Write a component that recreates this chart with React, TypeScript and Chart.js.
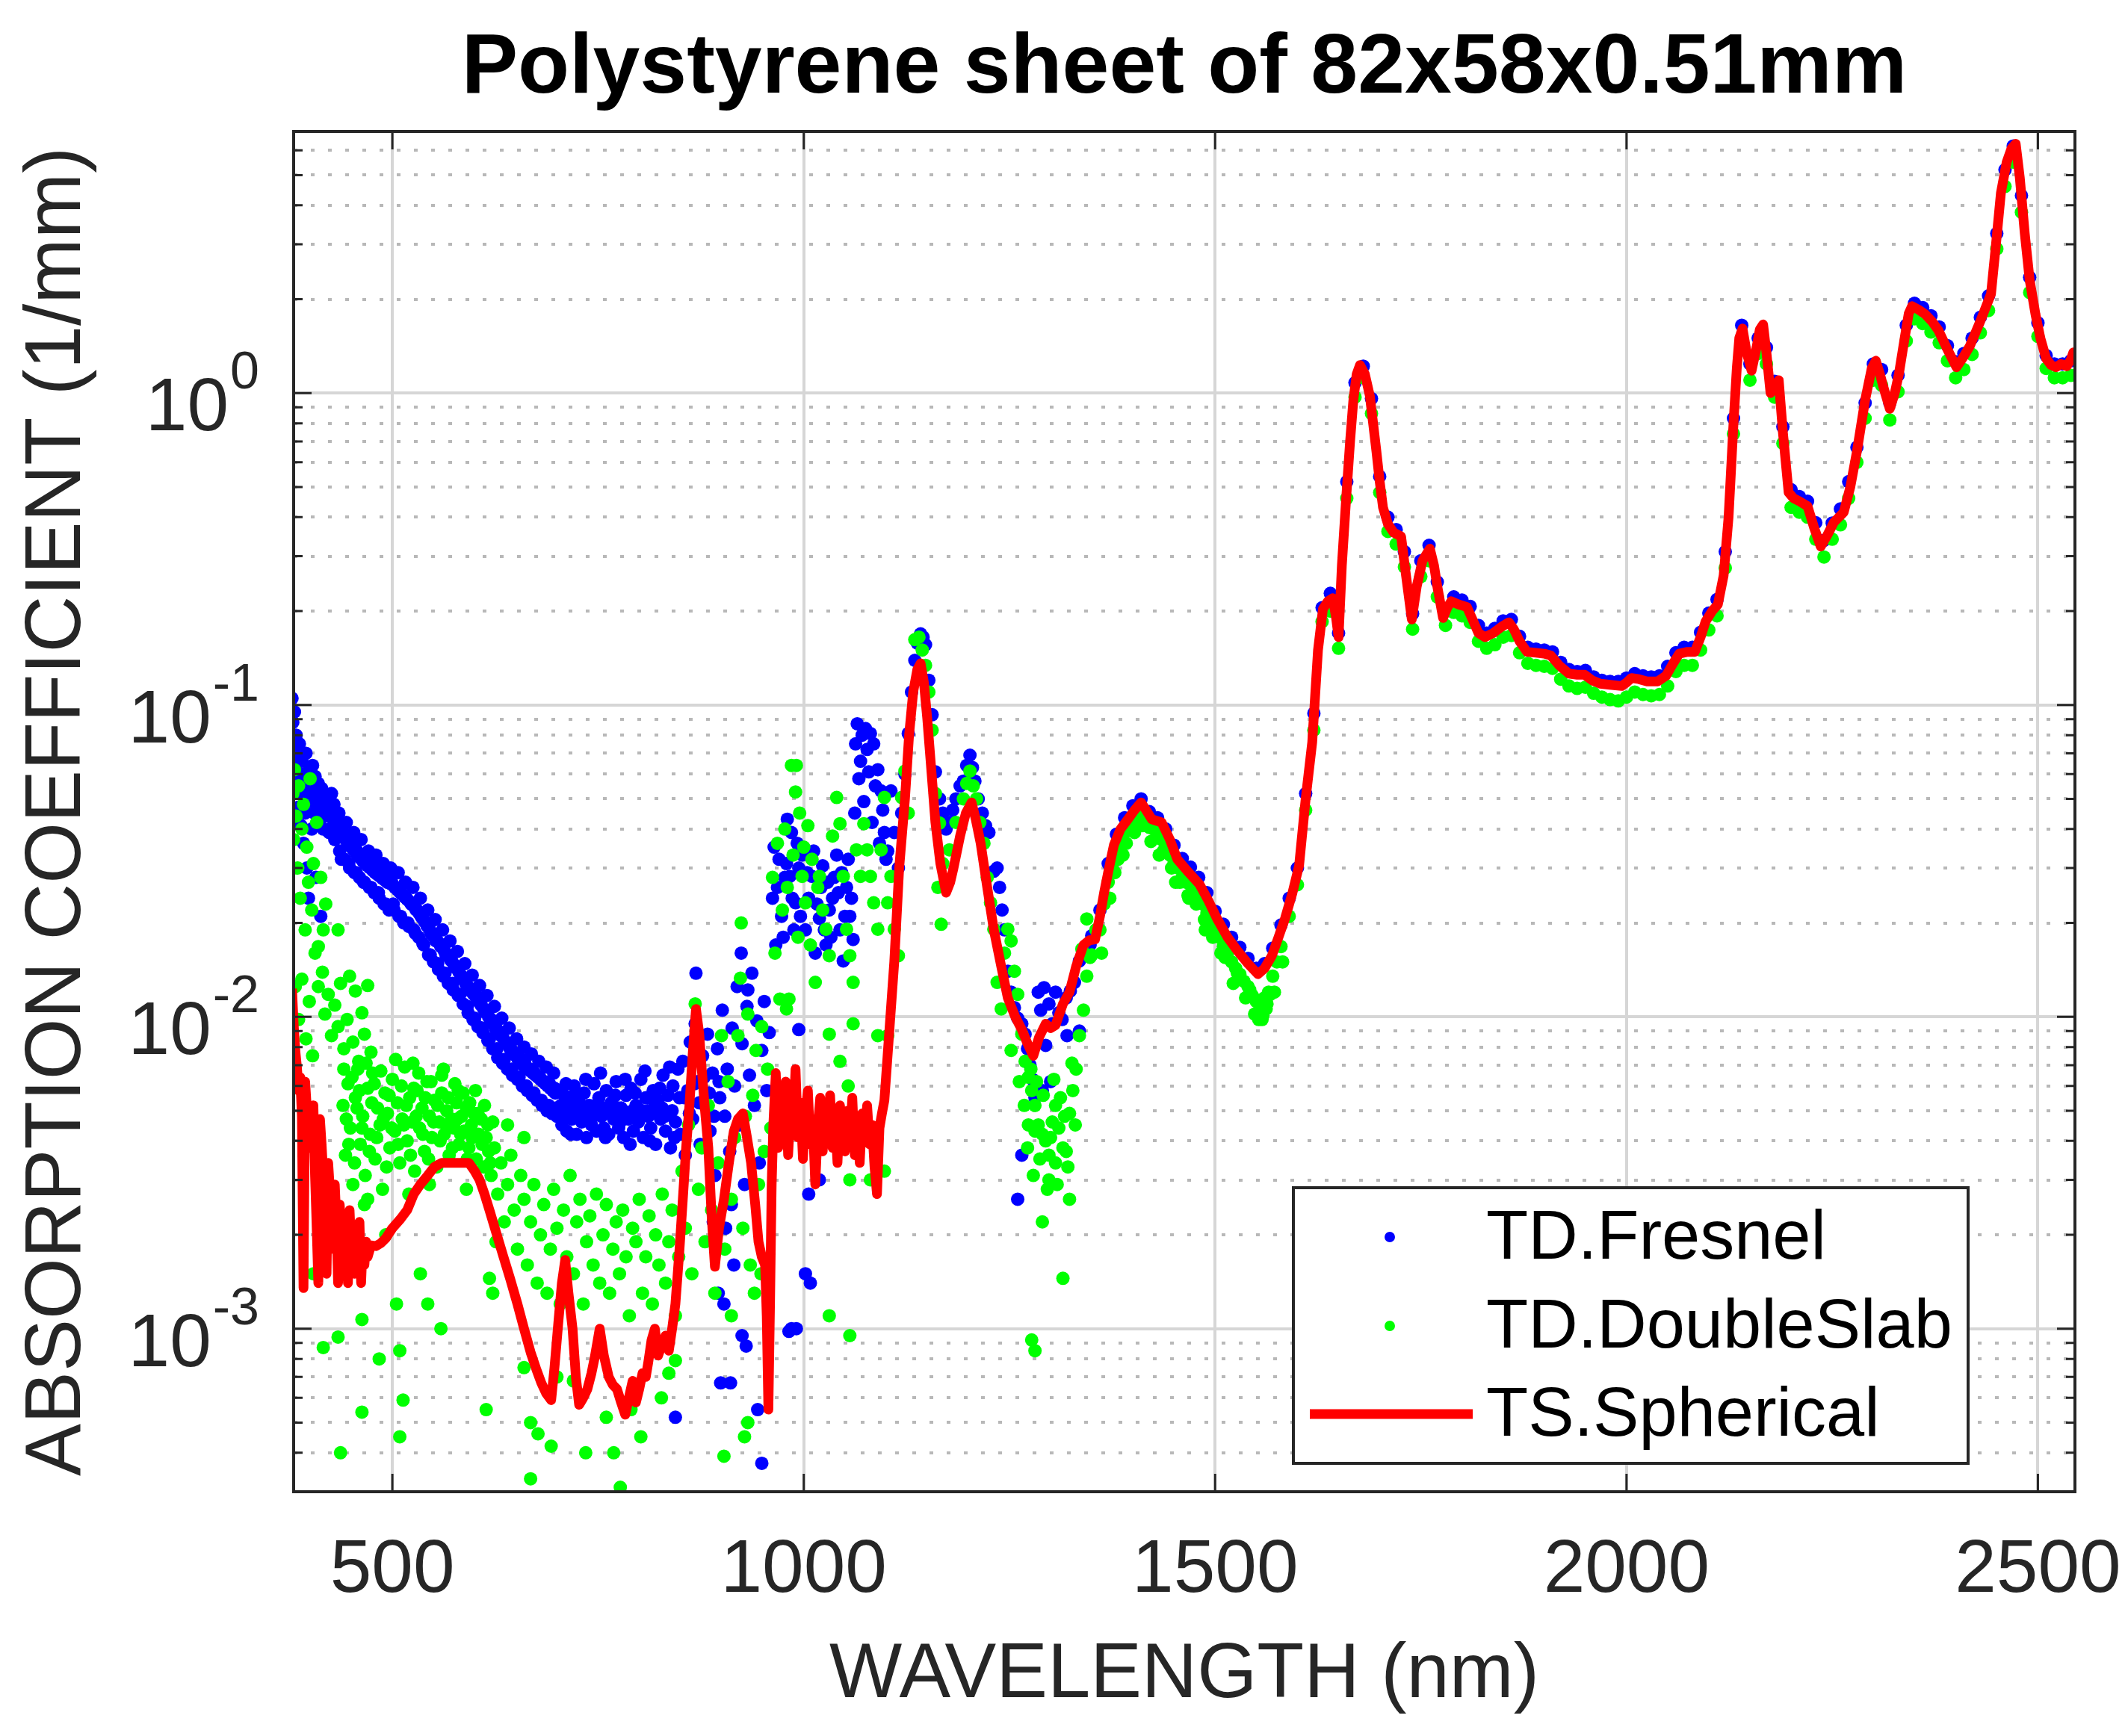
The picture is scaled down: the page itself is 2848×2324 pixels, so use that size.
import { useEffect, useRef } from 'react';
import { Chart, registerables } from 'chart.js';

Chart.register(...registerables);

const titleText = 'Polystyrene sheet of 82x58x0.51mm';
const xTitle = 'WAVELENGTH (nm)';
const yTitle = 'ABSORPTION COEFFICIENT (1/mm)';
const legendLabels = ['TD.Fresnel', 'TD.DoubleSlab', 'TS.Spherical'];

const xMin = 380;
const xMax = 2545;
const yMin = 3.05e-4;
const yMax = 6.9;
const xTicks = [500, 1000, 1500, 2000, 2500];
const yDecades = [0.001, 0.01, 0.1, 1];
const yExponents = ['-3', '-2', '-1', '0'];
const yMinorBases = [0.0001, 0.001, 0.01, 0.1, 1];
const yMinorSteps = [2, 3, 4, 5, 6, 7, 8, 9];

// TD.Fresnel (blue dots) [wavelength nm, 1/mm]
const fresnelPoints: [number, number][] = [
  [378, 0.105], [379, 0.088], [380, 0.072], [381, 0.095], [382, 0.062], [383, 0.08], [384, 0.055], [385, 0.068],
  [386, 0.047], [387, 0.075], [388, 0.058], [389, 0.041], [390, 0.066], [391, 0.052], [392, 0.036], [393, 0.06],
  [394, 0.045], [395, 0.07], [396, 0.03], [397, 0.055], [398, 0.024], [399, 0.062], [400, 0.049], [401, 0.057],
  [402, 0.04], [403, 0.064], [404, 0.051], [405, 0.045], [406, 0.059], [407, 0.028], [408, 0.053], [409, 0.047],
  [410, 0.056], [411, 0.042], [412, 0.05], [413, 0.021], [414, 0.054], [415, 0.046], [416, 0.04], [417, 0.05],
  [419, 0.044], [421, 0.05], [424, 0.04], [427, 0.046], [430, 0.037], [433, 0.043], [436, 0.034], [439, 0.04],
  [442, 0.032], [445, 0.037], [448, 0.03], [451, 0.036], [454, 0.029], [457, 0.034], [460, 0.028], [463, 0.033],
  [466, 0.027], [469, 0.032], [472, 0.026], [475, 0.031], [478, 0.025], [481, 0.03], [484, 0.024], [487, 0.029],
  [490, 0.023], [493, 0.028], [496, 0.022], [499, 0.027], [502, 0.022], [505, 0.026], [508, 0.021], [511, 0.025],
  [514, 0.02], [517, 0.024], [520, 0.0195], [523, 0.023], [526, 0.019], [529, 0.022], [532, 0.018], [535, 0.021],
  [538, 0.017], [541, 0.02], [544, 0.0158], [547, 0.0185], [550, 0.015], [553, 0.0175], [556, 0.0142], [559, 0.0168],
  [562, 0.0135], [565, 0.0158], [568, 0.0128], [571, 0.0152], [574, 0.0122], [577, 0.0144], [580, 0.0117], [583, 0.0136],
  [586, 0.011], [589, 0.0128], [592, 0.0103], [595, 0.0121], [598, 0.0098], [601, 0.0118], [604, 0.0093], [607, 0.011],
  [610, 0.0089], [613, 0.0104], [616, 0.0084], [619, 0.0098], [622, 0.0079], [625, 0.0092], [628, 0.0074], [631, 0.0088],
  [634, 0.0071], [637, 0.0083], [640, 0.0068], [643, 0.0079], [646, 0.0065], [649, 0.0076], [652, 0.0063], [655, 0.0074],
  [658, 0.006], [661, 0.0071], [664, 0.0058], [667, 0.0068], [670, 0.0056], [673, 0.0066], [676, 0.0054], [679, 0.0064],
  [682, 0.0052], [685, 0.0062], [688, 0.005], [691, 0.0061], [694, 0.0049], [697, 0.0059], [700, 0.0048], [703, 0.0058],
  [422, 0.0455], [425, 0.0445], [428, 0.043], [431, 0.042], [434, 0.0405], [437, 0.039], [440, 0.038], [443, 0.037],
  [446, 0.036], [449, 0.0352], [452, 0.0345], [455, 0.0337], [458, 0.033], [461, 0.0323], [464, 0.0316], [467, 0.031],
  [470, 0.0305], [473, 0.03], [476, 0.0295], [479, 0.029], [482, 0.0286], [485, 0.0282], [488, 0.0278], [491, 0.0274],
  [494, 0.027], [497, 0.0268], [500, 0.0265], [503, 0.026], [506, 0.0256], [509, 0.0251], [512, 0.0247], [515, 0.0242],
  [518, 0.0238], [521, 0.0234], [524, 0.0229], [527, 0.0225], [530, 0.022], [533, 0.0214], [536, 0.0208], [539, 0.0202],
  [542, 0.0196], [545, 0.0191], [548, 0.0186], [551, 0.018], [554, 0.0176], [557, 0.0172], [560, 0.0168], [563, 0.0163],
  [566, 0.0159], [569, 0.0155], [572, 0.0151], [575, 0.0147], [578, 0.0143], [581, 0.0139], [584, 0.0135], [587, 0.0131],
  [590, 0.0127], [593, 0.0124], [596, 0.0121], [599, 0.0118], [602, 0.0115], [605, 0.0112], [608, 0.0109], [611, 0.0106],
  [614, 0.0103], [617, 0.01], [620, 0.0098], [623, 0.0095], [626, 0.0092], [629, 0.009], [632, 0.0087], [635, 0.0085],
  [638, 0.0083], [641, 0.0081], [644, 0.0079], [647, 0.0077], [650, 0.0075], [653, 0.0073], [656, 0.0072], [659, 0.007],
  [662, 0.0069], [665, 0.0068], [668, 0.0067], [671, 0.0066], [674, 0.0065], [677, 0.0064], [680, 0.0063], [683, 0.0062],
  [686, 0.0061], [689, 0.006], [692, 0.0059], [695, 0.0058], [698, 0.0057],
  [423, 0.039], [426, 0.052], [429, 0.048], [435, 0.045], [438, 0.032], [444, 0.042], [447, 0.031], [453, 0.039],
  [456, 0.029], [462, 0.037], [465, 0.027], [471, 0.034], [474, 0.026], [480, 0.033], [483, 0.025], [489, 0.031],
  [492, 0.023], [498, 0.03], [501, 0.023], [507, 0.029], [510, 0.021], [516, 0.027], [519, 0.02], [525, 0.026],
  [528, 0.0185], [534, 0.024], [537, 0.0172], [543, 0.022], [546, 0.0158], [552, 0.0205], [555, 0.0148], [561, 0.019],
  [564, 0.0138], [570, 0.0175], [573, 0.0128], [579, 0.0162], [582, 0.0118], [588, 0.0148], [591, 0.0108], [597, 0.0136],
  [600, 0.0099], [606, 0.0126], [609, 0.0092], [615, 0.0117], [618, 0.0085], [624, 0.0108], [627, 0.0079], [633, 0.0099],
  [636, 0.0073], [642, 0.0092], [645, 0.0068], [651, 0.0085], [654, 0.0064], [660, 0.008], [663, 0.006], [669, 0.0076],
  [672, 0.0057], [678, 0.0072], [681, 0.0054], [687, 0.0069], [690, 0.0052], [696, 0.0066], [699, 0.0051],
  [706, 0.0045], [709, 0.0056], [712, 0.0043], [715, 0.0054], [718, 0.0047], [721, 0.006], [724, 0.0042], [727, 0.0053],
  [730, 0.0046], [733, 0.0057], [736, 0.0041], [739, 0.0052], [742, 0.0045], [745, 0.0061], [748, 0.0043], [751, 0.0055],
  [754, 0.0048], [757, 0.0044], [760, 0.0058], [763, 0.0042], [766, 0.0053], [769, 0.0047], [772, 0.0062], [775, 0.0044],
  [778, 0.0051], [781, 0.0041], [784, 0.0056], [787, 0.0047], [790, 0.0059], [793, 0.0043], [796, 0.0052], [799, 0.0046],
  [802, 0.0063], [805, 0.0041], [808, 0.0055], [811, 0.0048], [814, 0.0044], [817, 0.0058], [820, 0.0039], [823, 0.0054],
  [826, 0.0047], [829, 0.0065], [832, 0.0043], [835, 0.0056], [838, 0.0038], [841, 0.006], [844, 0.0046], [847, 0.0068],
  [705, 0.0052], [711, 0.0061], [717, 0.0042], [723, 0.0057], [729, 0.0049], [735, 0.0063], [741, 0.0047], [747, 0.0052],
  [753, 0.0066], [759, 0.0041], [765, 0.0049], [771, 0.0056], [777, 0.0046], [783, 0.0063], [789, 0.0039], [795, 0.0057],
  [801, 0.0049], [807, 0.0067], [813, 0.004], [819, 0.0053], [825, 0.0059], [831, 0.0048], [837, 0.0069], [843, 0.0041],
  [849, 0.0055], [708, 0.005], [714, 0.0048], [720, 0.0051], [726, 0.0049], [732, 0.005], [738, 0.0048], [744, 0.0049],
  [750, 0.005], [756, 0.0051], [762, 0.0049], [768, 0.005], [774, 0.0051], [780, 0.005], [786, 0.0049], [792, 0.005],
  [798, 0.0051], [804, 0.005], [810, 0.005], [816, 0.0049], [822, 0.005], [828, 0.0051], [834, 0.0049], [840, 0.005],
  [850, 0.0042], [853, 0.0072], [856, 0.0036], [859, 0.0058], [862, 0.0083], [865, 0.0047], [868, 0.0095], [869, 0.0138],
  [871, 0.0062], [874, 0.0039], [877, 0.0075], [880, 0.0052], [883, 0.0088], [886, 0.0043], [889, 0.0066], [892, 0.0031],
  [895, 0.0079], [898, 0.0055], [901, 0.0105], [904, 0.0048], [907, 0.0068], [910, 0.0037], [913, 0.0092], [916, 0.006],
  [919, 0.0125], [922, 0.0045], [924, 0.016], [925, 0.0082], [928, 0.0029], [931, 0.0108], [932, 0.0122], [934, 0.0065],
  [937, 0.0138], [940, 0.0052], [943, 0.0097], [946, 0.0034], [949, 0.0078], [952, 0.0112], [955, 0.0058], [958, 0.0089],
  [855, 0.0055], [861, 0.0049], [867, 0.0061], [873, 0.0053], [879, 0.0064], [885, 0.0057], [891, 0.0048], [897, 0.0062],
  [844, 0.00052], [890, 0.0022], [896, 0.0013], [899, 0.00067], [903, 0.0012], [905, 0.0021], [911, 0.00067], [912, 0.0025],
  [915, 0.0016], [925, 0.00095], [930, 0.00088], [944, 0.00055], [949, 0.00037], [982, 0.00098], [991, 0.001], [1008, 0.0014],
  [962, 0.024], [966, 0.017], [970, 0.032], [973, 0.021], [977, 0.028], [980, 0.043], [983, 0.0282], [985, 0.039],
  [988, 0.019], [990, 0.0232], [994, 0.03], [998, 0.033], [1002, 0.019], [1006, 0.024], [1010, 0.0282], [1014, 0.016],
  [1019, 0.0207], [1023, 0.0305], [1027, 0.017], [1031, 0.022], [1035, 0.024], [1040, 0.033], [1044, 0.019], [1048, 0.0151],
  [1052, 0.026], [1056, 0.021], [1060, 0.0177], [1063, 0.075], [1065, 0.087], [1067, 0.058], [1069, 0.066], [1071, 0.08],
  [1073, 0.049], [1075, 0.084], [1077, 0.072], [1079, 0.061], [1081, 0.081], [1083, 0.042], [1085, 0.075], [1087, 0.055],
  [1090, 0.062], [1092, 0.036], [1094, 0.053], [1096, 0.046], [1098, 0.039], [1100, 0.032], [1102, 0.034], [1106, 0.053],
  [964, 0.035], [968, 0.026], [975, 0.018], [979, 0.031], [986, 0.024], [992, 0.036], [996, 0.021], [1004, 0.029],
  [1012, 0.034], [1016, 0.023], [1021, 0.026], [1025, 0.019], [1029, 0.027], [1033, 0.018], [1037, 0.028], [1042, 0.025],
  [1046, 0.029], [1050, 0.021], [1054, 0.032], [1058, 0.024], [1062, 0.045],
  [1110, 0.039], [1115, 0.03], [1119, 0.045], [1123, 0.06], [1127, 0.081], [1131, 0.11], [1135, 0.139], [1138, 0.158],
  [1142, 0.169], [1145, 0.165], [1148, 0.156], [1152, 0.12], [1156, 0.093], [1160, 0.061], [1165, 0.05], [1169, 0.045],
  [1173, 0.04], [1177, 0.042], [1181, 0.046], [1185, 0.05], [1190, 0.055], [1194, 0.057], [1198, 0.064], [1202, 0.069],
  [1205, 0.063], [1208, 0.057], [1212, 0.05], [1217, 0.045], [1221, 0.041], [1225, 0.039], [1231, 0.0293], [1235, 0.03],
  [1238, 0.026], [1241, 0.022], [1244, 0.019], [1248, 0.014], [1252, 0.012], [1256, 0.0107], [1260, 0.0099], [1265, 0.0095],
  [1269, 0.0088], [1272, 0.0079], [1275, 0.007], [1278, 0.0063], [1281, 0.0055], [1285, 0.012], [1288, 0.0105], [1292, 0.0124],
  [1294, 0.0081], [1298, 0.011], [1302, 0.0095], [1306, 0.012], [1310, 0.0103], [1314, 0.0098], [1319, 0.0115], [1324, 0.0121],
  [1329, 0.0129], [1335, 0.0151], [1340, 0.0158], [1344, 0.0164], [1348, 0.017],
  [1265, 0.0036], [1260, 0.0026], [1002, 0.0015], [985, 0.001], [1006, 0.0027], [994, 0.0091], [1019, 0.003], [1290, 0.0058],
  [1300, 0.0062], [1320, 0.0087], [1335, 0.009],
  [1350, 0.0182], [1360, 0.022], [1370, 0.031], [1380, 0.0385], [1390, 0.0435], [1400, 0.0475], [1410, 0.05], [1420, 0.0455],
  [1430, 0.0435], [1440, 0.04], [1450, 0.0355], [1460, 0.0322], [1470, 0.0302], [1480, 0.028], [1490, 0.025], [1500, 0.0218],
  [1510, 0.0198], [1520, 0.018], [1530, 0.0167], [1540, 0.0154], [1550, 0.0143], [1560, 0.0148], [1570, 0.0166], [1580, 0.0197],
  [1590, 0.024], [1600, 0.03], [1610, 0.052], [1620, 0.094], [1630, 0.205], [1640, 0.228], [1650, 0.17], [1660, 0.52],
  [1670, 1.08], [1680, 1.22], [1690, 0.96], [1700, 0.54], [1710, 0.4], [1720, 0.365], [1730, 0.31], [1740, 0.196],
  [1750, 0.29], [1760, 0.325], [1770, 0.248], [1780, 0.2], [1790, 0.222], [1800, 0.217], [1810, 0.207], [1820, 0.18],
  [1830, 0.17], [1840, 0.176], [1850, 0.186], [1860, 0.188], [1870, 0.166], [1880, 0.153], [1890, 0.151], [1900, 0.15],
  [1910, 0.148], [1920, 0.137], [1930, 0.13], [1940, 0.128], [1950, 0.129], [1960, 0.123], [1970, 0.12], [1980, 0.119],
  [1990, 0.119], [2000, 0.122], [2010, 0.126], [2020, 0.124], [2030, 0.123], [2040, 0.124], [2050, 0.133], [2060, 0.147],
  [2070, 0.153], [2080, 0.153], [2090, 0.171], [2100, 0.197], [2110, 0.218], [2120, 0.31], [2130, 0.83], [2140, 1.65],
  [2150, 1.24], [2160, 1.5], [2170, 1.4], [2180, 1.09], [2190, 0.78], [2200, 0.49], [2210, 0.466], [2220, 0.45],
  [2230, 0.384], [2240, 0.337], [2250, 0.383], [2260, 0.425], [2270, 0.52], [2280, 0.67], [2290, 0.93], [2300, 1.24],
  [2310, 1.19], [2320, 0.93], [2330, 1.14], [2340, 1.65], [2350, 1.94], [2360, 1.88], [2370, 1.77], [2380, 1.63],
  [2390, 1.42], [2400, 1.26], [2410, 1.34], [2420, 1.5], [2430, 1.75], [2440, 2.05], [2450, 3.25], [2460, 5.2],
  [2470, 6.2], [2480, 4.3], [2490, 2.35], [2500, 1.68], [2510, 1.32], [2520, 1.24], [2530, 1.24], [2540, 1.27],
];

// TD.DoubleSlab (green dots) [wavelength nm, 1/mm]
const slabPoints: [number, number][] = [
  [379, 0.052], [380, 0.037], [381, 0.062], [383, 0.044], [385, 0.03], [386, 0.055], [388, 0.024], [390, 0.04],
  [392, 0.048], [394, 0.019], [396, 0.035], [398, 0.027], [400, 0.058], [402, 0.022], [404, 0.031], [406, 0.016],
  [408, 0.042], [410, 0.0168], [413, 0.028], [416, 0.019], [419, 0.023], [434, 0.019],
  [410, 0.0125], [415, 0.0139], [418, 0.0102], [422, 0.0118], [426, 0.0087], [430, 0.0109], [434, 0.0093], [437, 0.0128],
  [441, 0.0079], [445, 0.0098], [448, 0.0135], [452, 0.0083], [455, 0.0121], [459, 0.0072], [463, 0.0103], [466, 0.0088],
  [470, 0.0126], [474, 0.0077], [382, 0.0125], [386, 0.0098], [390, 0.0132], [395, 0.0085], [399, 0.0112], [403, 0.0075],
  [404, 0.0015], [416, 0.00087], [419, 0.0022], [434, 0.00094], [437, 0.0004], [446, 0.0018], [463, 0.00107], [466, 0.0025],
  [484, 0.0008], [463, 0.00054], [492, 0.002], [505, 0.0012], [509, 0.00085], [513, 0.00059], [509, 0.00045], [534, 0.0015],
  [543, 0.0012], [559, 0.001], [614, 0.00055], [618, 0.00145], [622, 0.0013], [626, 0.0019],
  [440, 0.0052], [443, 0.0036], [446, 0.0061], [449, 0.0044], [452, 0.0029], [455, 0.0055], [458, 0.0068], [461, 0.0039],
  [464, 0.0048], [467, 0.0031], [470, 0.0059], [473, 0.0042], [476, 0.0066], [479, 0.0035], [482, 0.0051], [485, 0.0045],
  [488, 0.0028], [491, 0.0057], [494, 0.0049], [497, 0.0038], [500, 0.0063], [503, 0.0043], [506, 0.0053], [509, 0.0034],
  [512, 0.0047], [515, 0.0069], [518, 0.004], [521, 0.0055], [524, 0.0046], [527, 0.0032], [530, 0.0058], [533, 0.0044],
  [536, 0.0051], [539, 0.0037], [542, 0.0062], [545, 0.0048], [548, 0.0041], [551, 0.0054], [554, 0.0033], [557, 0.0046],
  [560, 0.0057], [563, 0.0042], [566, 0.005], [569, 0.0036], [572, 0.0047], [575, 0.0044], [578, 0.0053], [581, 0.0039],
  [584, 0.0048], [587, 0.0043], [590, 0.0051], [593, 0.0038], [596, 0.0045], [599, 0.0049], [602, 0.0035], [605, 0.0042],
  [608, 0.0047], [611, 0.0033], [614, 0.0041], [617, 0.0037], [525, 0.0071], [560, 0.0065], [580, 0.0058], [470, 0.0026],
  [520, 0.0027], [545, 0.0029], [590, 0.0028],
  [441, 0.0068], [444, 0.0047], [447, 0.0039], [451, 0.0064], [454, 0.0034], [457, 0.0051], [460, 0.0058], [463, 0.0044],
  [468, 0.0071], [472, 0.0037], [475, 0.0053], [478, 0.0061], [481, 0.0041], [486, 0.0067], [489, 0.0047], [493, 0.0033],
  [496, 0.0056], [499, 0.0044], [504, 0.0073], [507, 0.0039], [511, 0.006], [514, 0.0045], [517, 0.0052], [522, 0.0036],
  [526, 0.0059], [529, 0.0048], [532, 0.0066], [537, 0.0042], [540, 0.0055], [544, 0.0035], [547, 0.0062], [550, 0.0046],
  [555, 0.0052], [558, 0.004], [562, 0.0068], [565, 0.0045], [568, 0.0055], [573, 0.0038], [576, 0.0061], [579, 0.0047],
  [583, 0.0042], [586, 0.0057], [591, 0.0035], [594, 0.0053], [597, 0.0041], [601, 0.0058], [604, 0.0049], [609, 0.0039],
  [612, 0.0052], [616, 0.0045], [619, 0.0034], [622, 0.0046],
  [620, 0.0031], [624, 0.0038], [628, 0.0027], [632, 0.0034], [636, 0.0022], [640, 0.0029], [644, 0.0036], [648, 0.0024],
  [652, 0.0018], [656, 0.0031], [660, 0.0026], [664, 0.0016], [668, 0.0022], [672, 0.0029], [676, 0.0014], [680, 0.002],
  [684, 0.0025], [688, 0.0013], [692, 0.0018], [696, 0.0028], [700, 0.0021], [704, 0.0012], [708, 0.0024], [712, 0.0017],
  [716, 0.0031], [720, 0.0015], [724, 0.0022], [728, 0.0026], [732, 0.0012], [736, 0.0019], [740, 0.0023], [744, 0.0016],
  [748, 0.0027], [752, 0.0014], [756, 0.002], [760, 0.0025], [764, 0.0013], [768, 0.0018], [772, 0.0022], [776, 0.0015],
  [780, 0.0024], [784, 0.0017], [788, 0.0011], [792, 0.0021], [796, 0.0019], [800, 0.0026], [804, 0.0013], [808, 0.0017],
  [812, 0.0023], [816, 0.0012], [820, 0.002], [824, 0.0016], [828, 0.0027], [832, 0.0014], [836, 0.0019], [840, 0.0024],
  [844, 0.0011], [848, 0.0017], [640, 0.0045], [660, 0.0041],
  [660, 0.00075], [668, 0.0005], [668, 0.00033], [677, 0.00046], [693, 0.00042], [735, 0.0004], [760, 0.00052], [769, 0.0004],
  [777, 0.00031], [790, 0.00055], [802, 0.00045], [827, 0.0006], [836, 0.00072], [844, 0.00079], [700, 0.0007], [720, 0.00068],
  [852, 0.0032], [856, 0.0021], [860, 0.0045], [864, 0.0015], [868, 0.011], [872, 0.0028], [876, 0.0038], [880, 0.0019],
  [884, 0.0052], [888, 0.0024], [892, 0.0013], [896, 0.0034], [900, 0.0087], [904, 0.0018], [908, 0.0062], [912, 0.0026],
  [916, 0.0041], [920, 0.0087], [923, 0.0133], [926, 0.0021], [929, 0.0048], [932, 0.0102], [935, 0.0016], [938, 0.0056],
  [942, 0.0078], [945, 0.0029], [949, 0.0093], [952, 0.0037], [956, 0.0068], [960, 0.0044],
  [903, 0.00039], [928, 0.00045], [932, 0.0005], [924, 0.02], [912, 0.0011], [940, 0.0013], [948, 0.0015],
  [962, 0.028], [965, 0.016], [968, 0.036], [971, 0.0114], [974, 0.022], [977, 0.04], [980, 0.026], [982, 0.0114],
  [985, 0.064], [987, 0.033], [990, 0.0526], [991, 0.064], [993, 0.018], [995, 0.045], [998, 0.0282], [1000, 0.035],
  [1002, 0.0232], [1005, 0.041], [1008, 0.017], [1010, 0.032], [1014, 0.0129], [1017, 0.026], [1019, 0.0282], [1023, 0.022],
  [1027, 0.0191], [1031, 0.0157], [1035, 0.038], [1040, 0.0505], [1044, 0.0416], [1048, 0.0282], [1052, 0.0191], [1056, 0.0157],
  [1060, 0.0129], [1064, 0.0343], [1069, 0.0282], [1073, 0.0416], [1077, 0.0343], [1081, 0.0282], [1085, 0.0232], [1090, 0.0191],
  [1094, 0.0343], [1098, 0.0505], [1102, 0.0232], [1106, 0.0282], [1110, 0.0191], [1115, 0.0157], [1119, 0.0505], [1123, 0.0614],
  [1127, 0.045], [979, 0.0106], [1031, 0.0088], [1060, 0.0095], [1044, 0.0072], [1054, 0.006], [1081, 0.003], [1056, 0.003],
  [1098, 0.0032], [1073, 0.004], [1090, 0.0087], [1102, 0.0087], [1031, 0.0011], [1056, 0.00095],
  [1135, 0.162], [1140, 0.165], [1144, 0.15], [1148, 0.134], [1152, 0.11], [1156, 0.083], [1160, 0.052], [1165, 0.0418],
  [1169, 0.031], [1163, 0.026], [1167, 0.0198], [1177, 0.0343], [1185, 0.042], [1194, 0.05], [1198, 0.056], [1202, 0.0614],
  [1206, 0.055], [1210, 0.05], [1214, 0.042], [1219, 0.036], [1223, 0.028], [1227, 0.0232], [1231, 0.0191], [1235, 0.0129],
  [1240, 0.0106], [1244, 0.016], [1248, 0.0191], [1252, 0.0175], [1256, 0.014], [1260, 0.0118], [1265, 0.0088], [1269, 0.0072],
  [1273, 0.0064], [1277, 0.0058], [1281, 0.0052], [1285, 0.0045], [1290, 0.0042], [1294, 0.004], [1298, 0.0036], [1302, 0.0046],
  [1306, 0.0052], [1310, 0.0044], [1315, 0.0038], [1319, 0.0037], [1323, 0.0049], [1327, 0.0058], [1331, 0.0068], [1335, 0.0087],
  [1340, 0.0105], [1344, 0.0135], [1348, 0.0155], [1281, 0.0043], [1290, 0.0022], [1298, 0.003], [1315, 0.00145], [1277, 0.00092],
  [1281, 0.00085], [1306, 0.0034], [1323, 0.0026], [1262, 0.0062], [1252, 0.0078], [1273, 0.0045], [1344, 0.0206], [1338, 0.0165],
  [1268, 0.0052], [1272, 0.0038], [1276, 0.0068], [1279, 0.0031], [1283, 0.0062], [1287, 0.0035], [1291, 0.0056], [1296, 0.0028],
  [1300, 0.0041], [1304, 0.0063], [1308, 0.0029], [1312, 0.0055], [1317, 0.0048], [1321, 0.0033], [1326, 0.0071], [1330, 0.0045],
  [1350, 0.0158], [1355, 0.019], [1360, 0.019], [1365, 0.023], [1370, 0.027], [1375, 0.03], [1380, 0.034], [1385, 0.036],
  [1390, 0.039], [1395, 0.041], [1400, 0.042], [1405, 0.044], [1410, 0.045], [1415, 0.043], [1420, 0.0405], [1425, 0.04],
  [1430, 0.0385], [1435, 0.037], [1440, 0.0355], [1445, 0.033], [1450, 0.031], [1455, 0.03], [1460, 0.028], [1465, 0.027],
  [1470, 0.0265], [1475, 0.026], [1480, 0.0243], [1485, 0.023], [1490, 0.0215], [1495, 0.02], [1500, 0.0188], [1505, 0.018],
  [1510, 0.0168], [1515, 0.016], [1520, 0.015], [1525, 0.0143], [1530, 0.0137], [1535, 0.013], [1540, 0.0125], [1545, 0.0117],
  [1550, 0.0112], [1555, 0.0105], [1560, 0.0115], [1565, 0.012], [1570, 0.0135], [1575, 0.015], [1580, 0.0168], [1590, 0.021],
  [1362, 0.016], [1372, 0.024], [1378, 0.029], [1388, 0.033], [1432, 0.033], [1452, 0.027], [1468, 0.024], [1488, 0.019],
  [1507, 0.016], [1522, 0.0128], [1537, 0.0115], [1548, 0.0102], [1553, 0.0098], [1558, 0.0101], [1562, 0.0106], [1572, 0.012],
  [1582, 0.015], [1382, 0.032], [1392, 0.036], [1402, 0.039], [1412, 0.041], [1422, 0.0365], [1437, 0.034], [1447, 0.03],
  [1457, 0.027], [1467, 0.0245], [1477, 0.023], [1487, 0.0205], [1497, 0.018], [1512, 0.0155], [1527, 0.0138], [1542, 0.0122],
  [1552, 0.0113], [1557, 0.0098], [1563, 0.011], [1567, 0.0118],
  [1600, 0.0265], [1610, 0.046], [1620, 0.083], [1630, 0.185], [1640, 0.2], [1650, 0.152], [1660, 0.46], [1670, 0.97],
  [1680, 1.12], [1690, 0.86], [1700, 0.48], [1710, 0.36], [1720, 0.328], [1730, 0.277], [1740, 0.175], [1750, 0.258],
  [1760, 0.29], [1770, 0.222], [1780, 0.18], [1790, 0.198], [1800, 0.193], [1810, 0.184], [1820, 0.16], [1830, 0.152],
  [1840, 0.156], [1850, 0.165], [1860, 0.167], [1870, 0.147], [1880, 0.136], [1890, 0.134], [1900, 0.133], [1910, 0.131],
  [1920, 0.121], [1930, 0.115], [1940, 0.113], [1950, 0.114], [1960, 0.109], [1970, 0.106], [1980, 0.104], [1990, 0.103],
  [2000, 0.106], [2010, 0.11], [2020, 0.108], [2030, 0.107], [2040, 0.108], [2050, 0.115], [2060, 0.128], [2070, 0.134],
  [2080, 0.134], [2090, 0.15], [2100, 0.174], [2110, 0.193], [2120, 0.275], [2130, 0.74], [2140, 1.48], [2150, 1.1],
  [2160, 1.34], [2170, 1.24], [2180, 0.97], [2190, 0.69], [2200, 0.43], [2210, 0.415], [2220, 0.4], [2230, 0.34],
  [2240, 0.298], [2250, 0.34], [2260, 0.378], [2270, 0.46], [2280, 0.6], [2290, 0.83], [2300, 1.1], [2310, 1.06],
  [2320, 0.82], [2330, 1.01], [2340, 1.47], [2350, 1.73], [2360, 1.67], [2370, 1.57], [2380, 1.45], [2390, 1.27],
  [2400, 1.12], [2410, 1.19], [2420, 1.33], [2430, 1.56], [2440, 1.84], [2450, 2.9], [2460, 4.6], [2470, 5.5],
  [2480, 3.8], [2490, 2.1], [2500, 1.52], [2510, 1.2], [2520, 1.12], [2530, 1.12], [2540, 1.14],
];

// TS.Spherical (red line) [wavelength nm, 1/mm]
const sphericalPoints: [number, number][] = [
  [378, 0.0123], [380, 0.0095], [382, 0.0078], [384, 0.0069], [386, 0.0058], [388, 0.0064], [390, 0.0048], [392, 0.00135],
  [394, 0.0062], [396, 0.0051], [398, 0.0045], [400, 0.0038], [402, 0.0049], [404, 0.0052], [406, 0.0031], [408, 0.0021],
  [410, 0.0014], [412, 0.0047], [414, 0.0039], [416, 0.0031], [418, 0.0018], [420, 0.0015], [422, 0.0034], [424, 0.0028],
  [426, 0.0026], [428, 0.0018], [430, 0.0029], [432, 0.0022], [434, 0.0014], [436, 0.0025], [438, 0.0021], [440, 0.0023],
  [442, 0.0016], [444, 0.0019], [446, 0.0014], [448, 0.0024], [450, 0.0018], [452, 0.0021], [454, 0.0015], [456, 0.0021],
  [458, 0.0015], [460, 0.0022], [462, 0.0014], [464, 0.0019], [466, 0.0016], [468, 0.0019], [470, 0.0017], [474, 0.00185],
  [480, 0.00184], [486, 0.00188], [492, 0.00195], [500, 0.0021], [510, 0.00225], [518, 0.0024], [526, 0.0027], [534, 0.0029],
  [543, 0.0031], [551, 0.0033], [560, 0.0034], [570, 0.0034], [582, 0.0034], [593, 0.0034], [600, 0.0032], [606, 0.003],
  [612, 0.0027], [618, 0.0024], [627, 0.002], [635, 0.0017], [643, 0.00145], [652, 0.0012], [660, 0.001], [668, 0.00084],
  [675, 0.00074], [681, 0.00067], [687, 0.00062], [693, 0.00059], [697, 0.00075], [702, 0.00107], [706, 0.0014], [710, 0.00166],
  [714, 0.0013], [719, 0.001], [723, 0.0007], [727, 0.00057], [732, 0.0006], [737, 0.00064], [742, 0.00072], [746, 0.00081],
  [752, 0.001], [757, 0.00082], [763, 0.0007], [768, 0.00066], [773, 0.00064], [778, 0.00058], [783, 0.00053], [788, 0.00061],
  [792, 0.00068], [796, 0.00058], [800, 0.00064], [804, 0.00072], [808, 0.0007], [811, 0.00078], [815, 0.00092], [819, 0.001],
  [823, 0.00082], [827, 0.00088], [832, 0.00095], [836, 0.00085], [840, 0.001], [844, 0.0012], [849, 0.0018], [853, 0.0026],
  [857, 0.0038], [861, 0.0052], [865, 0.0076], [869, 0.0106], [873, 0.0088], [876, 0.0068], [880, 0.005], [884, 0.0038],
  [888, 0.0023], [892, 0.00158], [897, 0.0021], [903, 0.0026], [909, 0.0034], [915, 0.0043], [920, 0.0047], [926, 0.0049],
  [931, 0.0041], [936, 0.0034], [941, 0.0025], [945, 0.0019], [949, 0.0017], [953, 0.0016], [955, 0.0011], [957, 0.00055],
  [959, 0.0012], [961, 0.0029], [963, 0.0045], [966, 0.0066], [969, 0.0038], [972, 0.0055], [975, 0.0042], [978, 0.0062],
  [981, 0.0036], [984, 0.0051], [987, 0.0045], [990, 0.0068], [993, 0.0041], [996, 0.0053], [999, 0.0035], [1002, 0.0049],
  [1005, 0.0058], [1008, 0.0039], [1011, 0.0047], [1014, 0.0029], [1017, 0.0044], [1020, 0.0055], [1023, 0.0037], [1026, 0.0049],
  [1029, 0.004], [1032, 0.0056], [1035, 0.0038], [1038, 0.0047], [1041, 0.0034], [1044, 0.0052], [1047, 0.0043], [1050, 0.0037],
  [1053, 0.005], [1056, 0.0041], [1059, 0.0055], [1062, 0.0036], [1065, 0.0046], [1068, 0.0034], [1071, 0.0049], [1074, 0.004],
  [1077, 0.0052], [1080, 0.0039], [1083, 0.0045], [1086, 0.0033], [1089, 0.0027], [1092, 0.0044], [1095, 0.0049], [1098, 0.0054],
  [1104, 0.009], [1110, 0.015], [1116, 0.03], [1123, 0.05], [1128, 0.08], [1133, 0.11], [1138, 0.13], [1142, 0.136],
  [1146, 0.118], [1150, 0.091], [1155, 0.062], [1160, 0.042], [1166, 0.031], [1173, 0.025], [1178, 0.027], [1182, 0.03],
  [1190, 0.038], [1197, 0.045], [1204, 0.0487], [1209, 0.043], [1215, 0.036], [1223, 0.026], [1231, 0.019], [1240, 0.0145],
  [1248, 0.0115], [1257, 0.01], [1265, 0.0091], [1272, 0.0082], [1279, 0.0075], [1286, 0.0086], [1294, 0.0095], [1300, 0.0092],
  [1306, 0.0094], [1315, 0.011], [1323, 0.012], [1331, 0.0145], [1340, 0.017], [1347, 0.0176], [1354, 0.0177], [1360, 0.021],
  [1365, 0.025], [1371, 0.03], [1377, 0.0356], [1385, 0.04], [1394, 0.043], [1402, 0.046], [1410, 0.0487], [1416, 0.046],
  [1423, 0.043], [1435, 0.042], [1445, 0.037], [1454, 0.032], [1468, 0.029], [1481, 0.0266], [1492, 0.0235], [1502, 0.0207],
  [1515, 0.018], [1527, 0.0163], [1540, 0.0148], [1552, 0.0137], [1560, 0.0143], [1569, 0.0157], [1577, 0.018], [1585, 0.0207],
  [1594, 0.025], [1602, 0.0305], [1610, 0.05], [1618, 0.076], [1625, 0.15], [1631, 0.203], [1637, 0.215], [1643, 0.22],
  [1647, 0.19], [1650, 0.165], [1654, 0.28], [1659, 0.45], [1664, 0.7], [1668, 0.95], [1672, 1.15], [1676, 1.23],
  [1682, 1.15], [1688, 0.98], [1692, 0.8], [1696, 0.65], [1700, 0.52], [1704, 0.43], [1710, 0.38], [1717, 0.357],
  [1726, 0.347], [1732, 0.26], [1739, 0.188], [1745, 0.24], [1752, 0.29], [1761, 0.317], [1766, 0.28], [1770, 0.24],
  [1777, 0.19], [1782, 0.205], [1787, 0.215], [1796, 0.21], [1806, 0.206], [1812, 0.19], [1820, 0.17], [1828, 0.165],
  [1838, 0.17], [1848, 0.178], [1857, 0.184], [1863, 0.175], [1870, 0.16], [1879, 0.148], [1890, 0.147], [1900, 0.146],
  [1908, 0.144], [1918, 0.134], [1930, 0.126], [1940, 0.125], [1949, 0.125], [1958, 0.12], [1968, 0.117], [1980, 0.116],
  [1994, 0.115], [2000, 0.118], [2006, 0.122], [2015, 0.121], [2025, 0.119], [2038, 0.119], [2048, 0.124], [2056, 0.135],
  [2064, 0.146], [2074, 0.148], [2083, 0.148], [2090, 0.165], [2096, 0.185], [2104, 0.2], [2111, 0.21], [2118, 0.26],
  [2124, 0.4], [2130, 0.8], [2134, 1.2], [2137, 1.5], [2141, 1.61], [2146, 1.35], [2152, 1.18], [2158, 1.4],
  [2162, 1.6], [2166, 1.66], [2170, 1.35], [2175, 1.0], [2180, 1.05], [2185, 1.1], [2190, 0.75], [2197, 0.48],
  [2203, 0.46], [2210, 0.45], [2220, 0.434], [2228, 0.37], [2236, 0.322], [2244, 0.35], [2252, 0.385], [2264, 0.415],
  [2272, 0.5], [2280, 0.65], [2290, 0.95], [2298, 1.2], [2303, 1.27], [2308, 1.15], [2312, 1.05], [2320, 0.89],
  [2326, 1.0], [2331, 1.15], [2338, 1.5], [2343, 1.8], [2347, 1.9], [2355, 1.85], [2363, 1.79], [2371, 1.7],
  [2379, 1.59], [2390, 1.38], [2401, 1.21], [2409, 1.3], [2417, 1.41], [2430, 1.7], [2443, 2.08], [2449, 3.0],
  [2455, 4.38], [2462, 5.5], [2468, 6.1], [2473, 6.3], [2478, 4.9], [2484, 3.25], [2490, 2.3], [2497, 1.79],
  [2503, 1.5], [2510, 1.29], [2516, 1.23], [2522, 1.21], [2528, 1.24], [2535, 1.22], [2540, 1.28], [2543, 1.35],
  [2546, 1.26],
];

const FONT = "'Liberation Sans', Arial, Helvetica, sans-serif";
const AXIS_COLOR = '#262626';
const DOT_RADIUS = 9;

const toXY = (pts: [number, number][]) => pts.map(([x, y]) => ({ x, y }));

const matlabPlugin = {
  id: 'matlabDecor',
  afterDatasetsDraw(chart: any) {
    const { ctx, chartArea: a, scales } = chart;
    const xs = scales.x;
    const ys = scales.y;
    ctx.save();

    // inward tick marks on all four sides
    ctx.strokeStyle = AXIS_COLOR;
    ctx.lineWidth = 3;
    ctx.beginPath();
    xTicks.forEach((v) => {
      const px = xs.getPixelForValue(v);
      ctx.moveTo(px, a.bottom);
      ctx.lineTo(px, a.bottom - 24);
      ctx.moveTo(px, a.top);
      ctx.lineTo(px, a.top + 24);
    });
    ys.ticks.forEach((t: any) => {
      const py = ys.getPixelForValue(t.value);
      const len = t.major ? 24 : 12;
      ctx.moveTo(a.left, py);
      ctx.lineTo(a.left + len, py);
      ctx.moveTo(a.right, py);
      ctx.lineTo(a.right - len, py);
    });
    ctx.stroke();

    // axes box
    ctx.lineWidth = 4;
    ctx.strokeRect(a.left, a.top, a.right - a.left, a.bottom - a.top);

    // legend box (lower right, inside axes)
    const bw = 903;
    const bh = 369;
    const bx = a.right - 143 - bw;
    const by = a.bottom - 38 - bh;
    ctx.fillStyle = '#ffffff';
    ctx.fillRect(bx, by, bw, bh);
    ctx.lineWidth = 4;
    ctx.strokeStyle = AXIS_COLOR;
    ctx.strokeRect(bx, by, bw, bh);

    const rowY = [by + 66, by + 185, by + 303];
    const markX = bx + 129;
    ctx.fillStyle = '#0000ff';
    ctx.beginPath();
    ctx.arc(markX, rowY[0], 7, 0, Math.PI * 2);
    ctx.fill();
    ctx.fillStyle = '#00ff00';
    ctx.beginPath();
    ctx.arc(markX, rowY[1], 7, 0, Math.PI * 2);
    ctx.fill();
    ctx.strokeStyle = '#ff0000';
    ctx.lineWidth = 13;
    ctx.beginPath();
    ctx.moveTo(bx + 22, rowY[2]);
    ctx.lineTo(bx + 240, rowY[2]);
    ctx.stroke();

    ctx.fillStyle = '#000000';
    ctx.font = `92px ${FONT}`;
    ctx.textAlign = 'left';
    ctx.textBaseline = 'middle';
    legendLabels.forEach((label, i) => {
      ctx.fillText(label, bx + 258, rowY[i] + 4);
    });

    ctx.restore();
  },
  afterDraw(chart: any) {
    const { ctx, chartArea: a, scales } = chart;
    const ys = scales.y;
    ctx.save();

    // y tick labels with superscript exponents
    ctx.fillStyle = AXIS_COLOR;
    ctx.textBaseline = 'alphabetic';
    ctx.textAlign = 'right';
    const rightEdge = a.left - 46;
    yDecades.forEach((v, i) => {
      const py = ys.getPixelForValue(v);
      ctx.font = `70px ${FONT}`;
      const exp = yExponents[i];
      const ew = ctx.measureText(exp).width;
      ctx.fillText(exp, rightEdge, py - 6);
      ctx.font = `100px ${FONT}`;
      ctx.fillText('10', rightEdge - ew - 2, py + 50);
    });

    // title centred over the axes
    ctx.fillStyle = '#000000';
    ctx.font = `bold 113px ${FONT}`;
    ctx.textAlign = 'center';
    ctx.fillText(titleText, (a.left + a.right) / 2, 116);
    ctx.restore();
  },
};

export default function App() {
  const canvasRef = useRef<HTMLCanvasElement>(null);
  const chartRef = useRef<Chart | null>(null);

  useEffect(() => {
    if (!canvasRef.current) return;
    if (chartRef.current) chartRef.current.destroy();

    const minorTicks = yMinorBases
      .flatMap((d) => yMinorSteps.map((s) => d * s))
      .filter((v) => v > yMin && v < yMax);

    chartRef.current = new Chart(canvasRef.current, {
      type: 'scatter',
      data: {
        datasets: [
          {
            label: legendLabels[0],
            data: toXY(fresnelPoints),
            pointRadius: DOT_RADIUS,
            pointHoverRadius: DOT_RADIUS,
            pointBorderWidth: 0,
            pointBackgroundColor: '#0000ff',
            backgroundColor: '#0000ff',
            order: 3,
          },
          {
            label: legendLabels[1],
            data: toXY(slabPoints),
            pointRadius: DOT_RADIUS,
            pointHoverRadius: DOT_RADIUS,
            pointBorderWidth: 0,
            pointBackgroundColor: '#00ff00',
            backgroundColor: '#00ff00',
            order: 2,
          },
          {
            label: legendLabels[2],
            data: toXY(sphericalPoints),
            showLine: true,
            pointRadius: 0,
            pointHoverRadius: 0,
            borderColor: '#ff0000',
            borderWidth: 13,
            borderJoinStyle: 'round',
            tension: 0,
            order: 1,
          },
        ],
      },
      options: {
        animation: false,
        responsive: true,
        maintainAspectRatio: false,
        devicePixelRatio: 1,
        events: [],
        layout: { padding: { top: 168, right: 63, left: 0, bottom: 0 } },
        plugins: {
          legend: { display: false },
          tooltip: { enabled: false },
          title: { display: false },
        },
        scales: {
          x: {
            type: 'linear',
            min: xMin,
            max: xMax,
            afterBuildTicks: (scale: any) => {
              scale.ticks = xTicks.map((value) => ({ value }));
            },
            afterFit: (scale: any) => {
              scale.height = 319;
              scale.paddingLeft = 0;
              scale.paddingRight = 0;
            },
            grid: {
              color: '#d6d6d6',
              lineWidth: 4,
              drawTicks: false,
            },
            border: { display: false },
            ticks: {
              autoSkip: false,
              maxRotation: 0,
              padding: 46,
              color: AXIS_COLOR,
              font: { family: FONT, size: 100 },
              callback: (v: any) => String(v),
            },
            title: {
              display: true,
              text: xTitle,
              color: AXIS_COLOR,
              font: { family: FONT, size: 103 },
              padding: { top: 11, bottom: 11 },
            },
          },
          y: {
            type: 'logarithmic',
            min: yMin,
            max: yMax,
            afterBuildTicks: (scale: any) => {
              const all = [
                ...yDecades.map((value) => ({ value, major: true })),
                ...minorTicks.map((value) => ({ value, major: false })),
              ];
              scale.ticks = all.sort((p, q) => p.value - q.value);
            },
            afterFit: (scale: any) => {
              scale.width = 385;
            },
            grid: {
              color: (c: any) => (c.tick && c.tick.major ? '#d6d6d6' : '#b8b8b8'),
              lineWidth: 4,
              drawTicks: false,
            },
            border: {
              display: false,
              dash: (c: any) => (c.tick && c.tick.major ? [] : [5, 18]),
            },
            ticks: {
              display: false,
              autoSkip: false,
            },
            title: {
              display: true,
              text: yTitle,
              color: AXIS_COLOR,
              font: { family: FONT, size: 105 },
              padding: { top: 7, bottom: 7 },
            },
          },
        },
      },
      plugins: [matlabPlugin],
    } as any);

    return () => {
      if (chartRef.current) {
        chartRef.current.destroy();
        chartRef.current = null;
      }
    };
  }, []);

  return (
    <div style={{ width: 2832, height: 2308, position: 'relative', background: '#ffffff' }}>
      <canvas ref={canvasRef}></canvas>
    </div>
  );
}
